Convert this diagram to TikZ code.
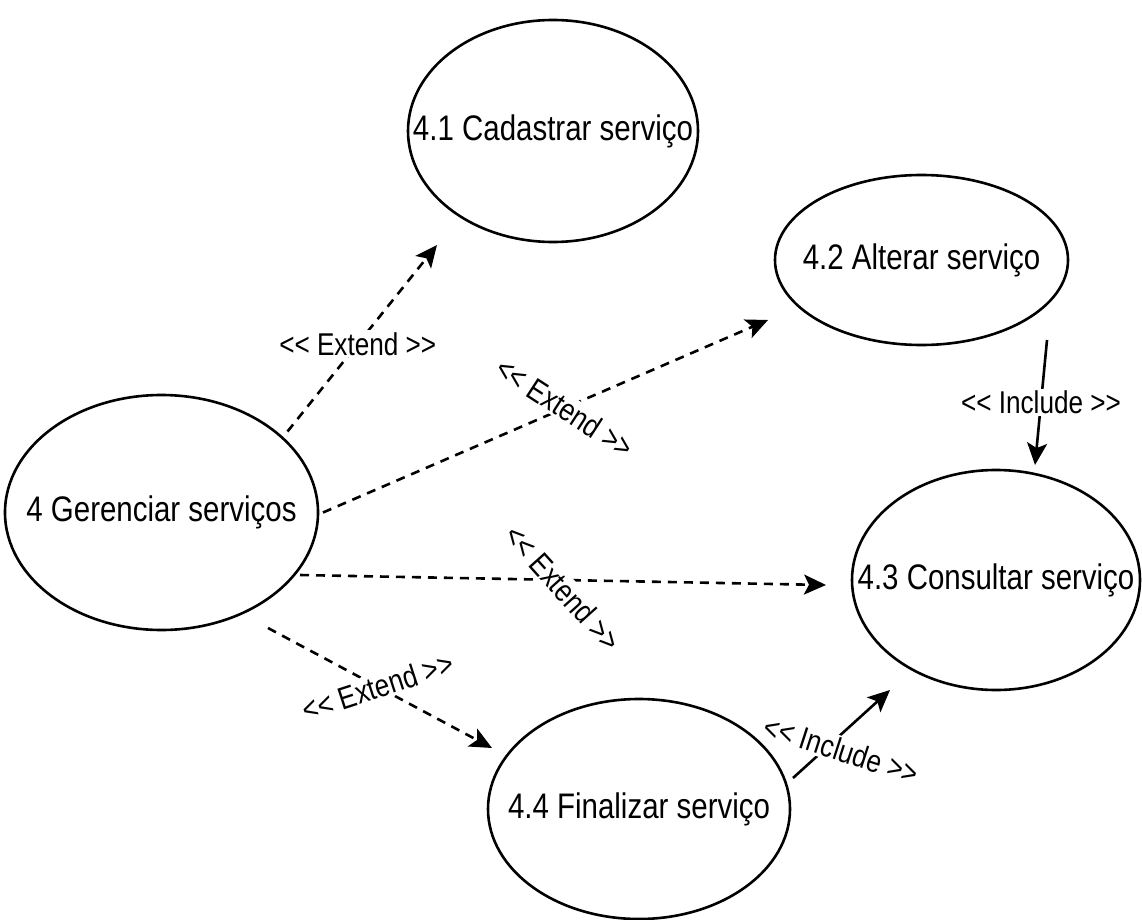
\documentclass[tikz,border=0pt]{standalone}
\usepackage{fontspec}
\setmainfont{Liberation Sans}[FakeStretch=0.83]
\usetikzlibrary{shapes.geometric,arrows.meta,calc}
\newcommand{\stext}[1]{<{}< #1 >{}>}
\begin{document}
\begin{tikzpicture}[x=1pt,y=-1pt,
  usecase/.style={ellipse,draw,line width=2.6pt,inner sep=0pt,
    font=\fontsize{35.5}{40}\selectfont},
  rel/.style={line width=2.6pt,-{Stealth[length=22pt,width=20pt,inset=5pt]}},
  ext/.style={rel,dash pattern=on 9pt off 7pt},
  lbl/.style={fill=white,inner sep=2pt,font=\fontsize{31.5}{35}\selectfont}]
\useasboundingbox (0,0) rectangle (1142,920);

% use cases
\node[usecase,minimum width=290pt,minimum height=222pt] (a) at (553,131)
  {\makebox[0pt]{4.1 Cadastrar serviço}};
\node[usecase,minimum width=293pt,minimum height=170pt] (b) at (921.5,260)
  {\makebox[0pt]{4.2 Alterar serviço}};
\node[usecase,minimum width=313pt,minimum height=235pt] (g) at (161.5,512.5)
  {\makebox[0pt]{4 Gerenciar serviços}};
\node[usecase,minimum width=288pt,minimum height=220pt] (c) at (996,580)
  {\makebox[0pt]{4.3 Consultar serviço}};
\node[usecase,minimum width=302pt,minimum height=220pt] (d) at (639,809)
  {\makebox[0pt]{4.4 Finalizar serviço}};

% extend relations
\draw[ext] ($(g.center)+(126,-81)$) -- ($(a.center)+(-116,114)$)
  node[lbl,pos=0.47] {\stext{Extend}};
\draw[ext] ($(g.center)+(161.5,0)$) -- ($(b.center)+(-153.5,60)$)
  node[lbl,pos=0.544,rotate=-33] {\stext{Extend}};
\draw[ext] ($(g.center)+(138.5,62.5)$) -- ($(c.center)+(-170,5)$)
  node[lbl,pos=0.5,yshift=-8pt,rotate=-48] {\stext{Extend}};
\draw[ext] ($(g.center)+(106.5,115.5)$) -- ($(d.center)+(-147,-61)$)
  node[lbl,pos=0.49,rotate=18] {\stext{Extend}};

% include relations
\draw[rel] ($(b.center)+(125.5,80)$) -- ($(c.center)+(39,-115)$)
  node[lbl,pos=0.5] {\stext{Include}};
\draw[rel] ($(d.center)+(154,-31)$) -- ($(c.center)+(-106,110)$)
  node[lbl,pos=0.5,yshift=-16pt,rotate=-18] {\stext{Include}};
\end{tikzpicture}
\end{document}
